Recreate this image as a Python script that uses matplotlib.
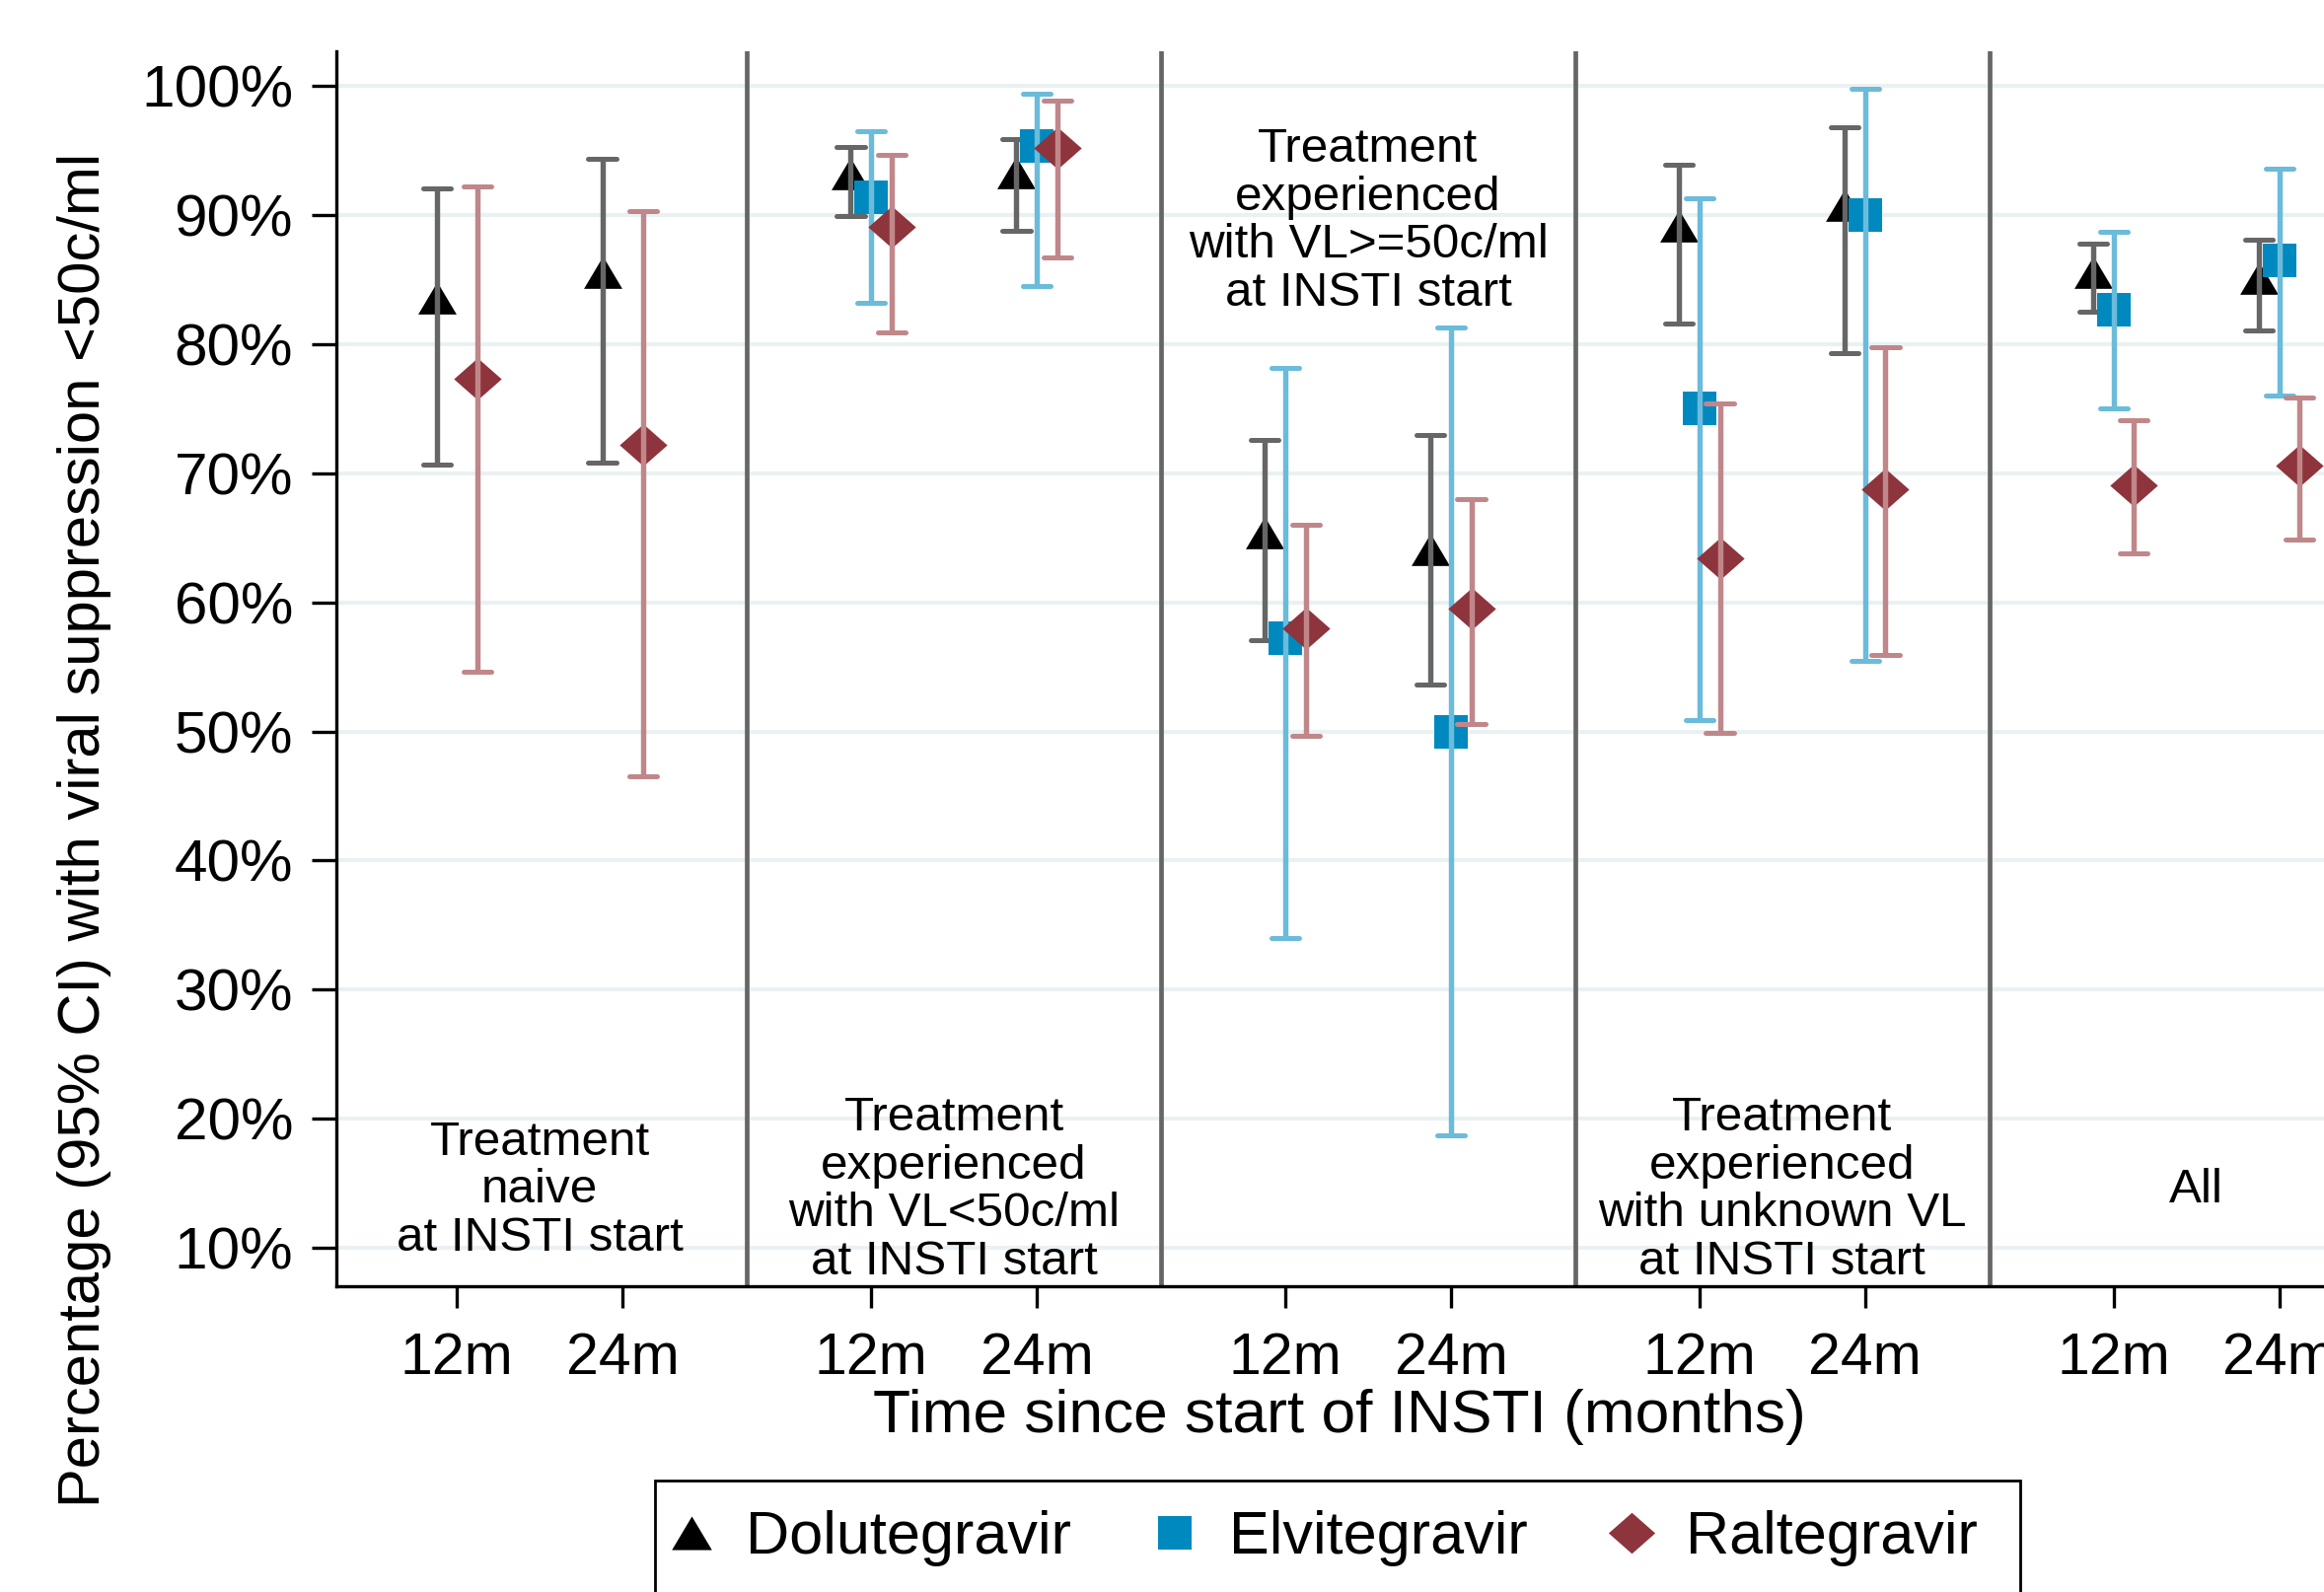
import matplotlib
matplotlib.use("Agg")
import matplotlib.pyplot as plt
import numpy as np
from matplotlib.patches import Rectangle
from matplotlib.lines import Line2D

plt.rcParams['font.family'] = ['Liberation Sans', 'DejaVu Sans']

# ---------------- data ----------------
groups = ["Treatment\nnaive\nat INSTI start",
          "Treatment\nexperienced\nwith VL<50c/ml\nat INSTI start",
          "Treatment\nexperienced\nwith VL>=50c/ml\nat INSTI start",
          "Treatment\nexperienced\nwith unknown VL\nat INSTI start",
          "All"]
group_text_top = [False, False, True, False, False]
times = ["12m", "24m"]
drugs = ["Dolutegravir", "Elvitegravir", "Raltegravir"]
yticks = [10, 20, 30, 40, 50, 60, 70, 80, 90, 100]
ytick_labels = ["10%", "20%", "30%", "40%", "50%", "60%", "70%", "80%", "90%", "100%"]

# order: (group1 12m, group1 24m, group2 12m, ...)
dtg_est = [83.6, 85.6, 93.2, 93.3, 65.4, 64.1, 89.2, 90.8, 85.6, 85.1]
dtg_lo = [70.7, 70.8, 89.9, 88.8, 57.1, 53.6, 81.6, 79.3, 82.5, 81.1]
dtg_hi = [92.1, 94.4, 95.3, 95.9, 72.6, 73.0, 93.9, 96.8, 87.8, 88.1]

evg_est = [np.nan, np.nan, 91.4, 95.4, 57.2, 50.0, 75.0, 90.0, 82.7, 86.5]
evg_lo = [np.nan, np.nan, 83.2, 84.5, 34.0, 18.7, 50.9, 55.5, 75.0, 76.0]
evg_hi = [np.nan, np.nan, 96.5, 99.4, 78.2, 81.3, 91.3, 99.8, 88.7, 93.6]

ral_est = [77.3, 72.2, 89.1, 95.2, 58.0, 59.5, 63.4, 68.8, 69.1, 70.6]
ral_lo = [54.6, 46.5, 80.9, 86.7, 49.7, 50.6, 49.9, 55.9, 63.8, 64.9]
ral_hi = [92.2, 90.3, 94.7, 98.9, 66.0, 68.0, 75.4, 79.8, 74.1, 75.9]

# ---------------- figure ----------------
W, H, DPI = 2356, 1614, 200
fig = plt.figure(figsize=(W / DPI, H / DPI), dpi=DPI)
ax_l, ax_r, ax_t, ax_b = 340.7, 2356.0, 52.0, 1303.6
ax = fig.add_axes([ax_l / W, 1 - ax_b / H, (ax_r - ax_l) / W, (ax_b - ax_t) / H])

GSTEP = 2.5
xpos = np.array([g * GSTEP + t for g in range(len(groups)) for t in range(len(times))], dtype=float)
OFF = 0.123

tri = [(-1, -0.84), (1, -0.84), (0, 0.84)]
dia = [(0, 0.88), (1, 0), (0, -0.88), (-1, 0)]

series = [
    (dtg_est, dtg_lo, dtg_hi, -OFF, tri, 14.0, "black", "#666666"),
    (evg_est, evg_lo, evg_hi, 0.0, "s", 12.4, "#0089BF", "#6BBBDB"),
    (ral_est, ral_lo, ral_hi, OFF, dia, 17.4, "#8E343C", "#C0878A"),
]

capw = 0.084
z = 3
for est, lo, hi, off, mk, ms, mcol, bcol in series:
    est = np.asarray(est, float)
    lo = np.asarray(lo, float)
    hi = np.asarray(hi, float)
    m = ~np.isnan(est)
    x = xpos[m] + off
    ax.plot(x, est[m], linestyle="none", marker=mk, ms=ms, color=mcol, mew=0, zorder=z)
    ax.vlines(x, lo[m], hi[m], colors=bcol, lw=1.95, zorder=z + 1)
    ax.hlines(lo[m], x - capw, x + capw, colors=bcol, lw=1.8, capstyle="round", zorder=z + 1)
    ax.hlines(hi[m], x - capw, x + capw, colors=bcol, lw=1.8, capstyle="round", zorder=z + 1)
    z += 2

# separators
for g in range(1, len(groups)):
    ax.axvline(g * GSTEP - 0.75, color="#666666", lw=1.7, zorder=2)

# group annotations
for g, (lab, top) in enumerate(zip(groups, group_text_top)):
    ax.text(g * GSTEP + 0.5, 89.5 if top else 14.47, lab, ha="center", va="center",
            fontsize=17.8, linespacing=1.1, zorder=10)

ax.set_xlim(-0.73, 11.27)
ax.set_ylim(7.05, 102.7)
ax.set_xticks(xpos)
ax.set_xticklabels(times * len(groups))
ax.set_yticks(yticks)
ax.set_yticklabels(ytick_labels)
ax.yaxis.grid(True, color="#EAF1F3", lw=1.45)
ax.set_axisbelow(True)
for s in ["top", "right"]:
    ax.spines[s].set_visible(False)
for s in ["left", "bottom"]:
    ax.spines[s].set_linewidth(1.2)
ax.tick_params(axis="y", length=8.9, width=1.2, pad=6.8, labelsize=21.7)
ax.tick_params(axis="x", length=7.8, width=1.2, pad=9, labelsize=21.2)

# axis titles
fig.text(1358 / W, 1 - 1452 / H, "Time since start of INSTI (months)", ha="center",
         va="baseline", fontsize=22.4)
fig.text(86 / W, 1 - 841 / H, "Percentage (95% CI) with viral suppression <50c/ml",
         ha="center", va="center", rotation=90, fontsize=21.5)

# legend
handles = [
    Line2D([], [], ls="none", marker=tri, ms=14.6, color="black", mew=0),
    Line2D([], [], ls="none", marker="s", ms=12.4, color="#0089BF", mew=0),
    Line2D([], [], ls="none", marker=dia, ms=17.0, color="#8E343C", mew=0),
]
fig.legend(handles, drugs, loc="center left", bbox_to_anchor=(670 / W, 1 - 1560 / H),
           ncol=3, frameon=False, fontsize=22.0, handlelength=1.0, handletextpad=0.40,
           columnspacing=1.22, borderpad=0, borderaxespad=0)
rect = Rectangle((664 / W, -0.2), (2048 - 664) / W, 0.2 + (1 - 1500.7 / H),
                 transform=fig.transFigure, fill=False, ec="black", lw=1.0, clip_on=False)
fig.add_artist(rect)

fig.savefig("out.png", dpi=DPI)
